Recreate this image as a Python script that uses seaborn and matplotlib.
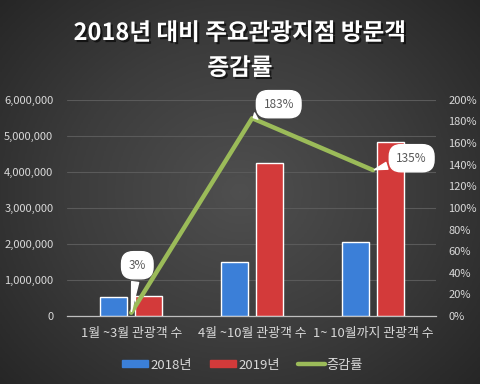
import numpy as np
import pandas as pd
import matplotlib
matplotlib.use("Agg")
import matplotlib.pyplot as plt
import matplotlib.patheffects as pe
from matplotlib.patches import Patch
from matplotlib.lines import Line2D
from matplotlib.ticker import FuncFormatter
import seaborn as sns


# 데이터

구간 = ["1월 ~3월 관광객 수", "4월 ~10월 관광객 수", "1~ 10월까지 관광객 수"]
방문객_2018 = [530000, 1500000, 2060000]
방문객_2019 = [545000, 4250000, 4840000]
증감률 = [3, 183, 135]

df = pd.DataFrame({
    "구간": 구간 * 2,
    "연도": ["2018년"] * 3 + ["2019년"] * 3,
    "방문객": 방문객_2018 + 방문객_2019,
})


# 스타일

sns.set_theme(style="white")
plt.rcParams["font.family"] = ["Noto Sans CJK KR", "DejaVu Sans"]

c_blue = "#3b7fd8"
c_red = "#d33a3a"
c_green = "#9bbb59"
c_text = "#d9d9d9"
c_grid = "#5a5a5a"

fig = plt.figure(figsize=(4.8, 3.84), dpi=100)

# 배경 그라데이션
bg = fig.add_axes([0, 0, 1, 1], zorder=-10)
yy, xx = np.mgrid[-1:1:300j, -1:1:300j]
r = np.sqrt(xx ** 2 + (yy * 0.9) ** 2) / np.sqrt(2)
bg.imshow(r, cmap=sns.blend_palette(["#4f4f4f", "#3c3c3c", "#242424"], as_cmap=True),
          extent=[0, 1, 0, 1], aspect="auto", vmin=0, vmax=1)
bg.axis("off")

ax = fig.add_axes([0.14, 0.177, 0.768, 0.563])
ax.set_facecolor("none")

sns.barplot(data=df, x="구간", y="방문객", hue="연도", order=구간,
            palette=[c_blue, c_red], saturation=1, width=0.58, gap=0.23, ax=ax,
            legend=False, zorder=3)

ax.set_xlim(-0.53, 2.52)
ax.set_ylim(0, 6000000)
ax.set_yticks(np.arange(0, 6000001, 1000000))
ax.yaxis.set_major_formatter(FuncFormatter(lambda v, p: f"{int(v):,}"))
ax.grid(axis="y", color=c_grid, linewidth=0.8, zorder=0)
ax.set_axisbelow(True)
ax.set_xlabel("")
ax.set_ylabel("")
for s in ["top", "left", "right"]:
    ax.spines[s].set_visible(False)
ax.spines["bottom"].set_color("#bfbfbf")
ax.spines["bottom"].set_linewidth(0.9)
ax.tick_params(axis="y", length=0, colors=c_text, labelsize=8, pad=10)
ax.tick_params(axis="x", length=0, colors=c_text, labelsize=9.3, pad=8)

# 보조축: 증감률
ax2 = ax.twinx()
x_pos = np.arange(len(구간))
sns.lineplot(x=x_pos, y=증감률, color=c_green, linewidth=3.2, ax=ax2, zorder=5)
ax2.set_ylim(0, 200)
ax2.set_yticks(np.arange(0, 201, 20))
ax2.yaxis.set_major_formatter(FuncFormatter(lambda v, p: f"{int(v)}%"))
ax2.tick_params(axis="y", length=0, colors=c_text, labelsize=8, pad=9)
ax2.set_facecolor("none")
ax2.grid(False)
for s in ax2.spines.values():
    s.set_visible(False)
ax.set_xlim(-0.53, 2.52)

# 말풍선 레이블
offsets = [(0.05, 44), (0.22, 13), (0.32, 11)]
for i, v in enumerate(증감률):
    dx, dy = offsets[i]
    ax2.annotate(f"{v}%", xy=(i, v), xytext=(i + dx, v + dy),
                 ha="center", va="center", fontsize=8.5, color="#595959", zorder=6,
                 bbox=dict(boxstyle="round,pad=0.6,rounding_size=1.0", fc="white", ec="white"),
                 arrowprops=dict(arrowstyle="wedge,tail_width=0.6,shrink_factor=0.5",
                                 fc="white", ec="white", shrinkB=1))

# 제목
shadow = [pe.withSimplePatchShadow(offset=(1.5, -1.5), shadow_rgbFace="black", alpha=0.6)]
fig.text(0.5, 1 - 33 / 384, "2018년 대비 주요관광지점 방문객", ha="center", va="center",
         fontsize=17, fontweight="bold", color="white", path_effects=shadow)
fig.text(0.5, 1 - 68 / 384, "증감률", ha="center", va="center",
         fontsize=17, fontweight="bold", color="white", path_effects=shadow)

# 범례
handles = [Patch(color=c_blue, label="2018년"),
           Patch(color=c_red, label="2019년"),
           Line2D([0], [0], color=c_green, linewidth=3.2, label="증감률")]
leg = fig.legend(handles=handles, loc="center", bbox_to_anchor=(0.505, 1 - 365 / 384),
                 ncol=3, frameon=False, fontsize=9.5, handlelength=2.0,
                 handleheight=0.4, columnspacing=1.4, handletextpad=0.15)
for t in leg.get_texts():
    t.set_color(c_text)

fig.savefig("out.png", dpi=100)
